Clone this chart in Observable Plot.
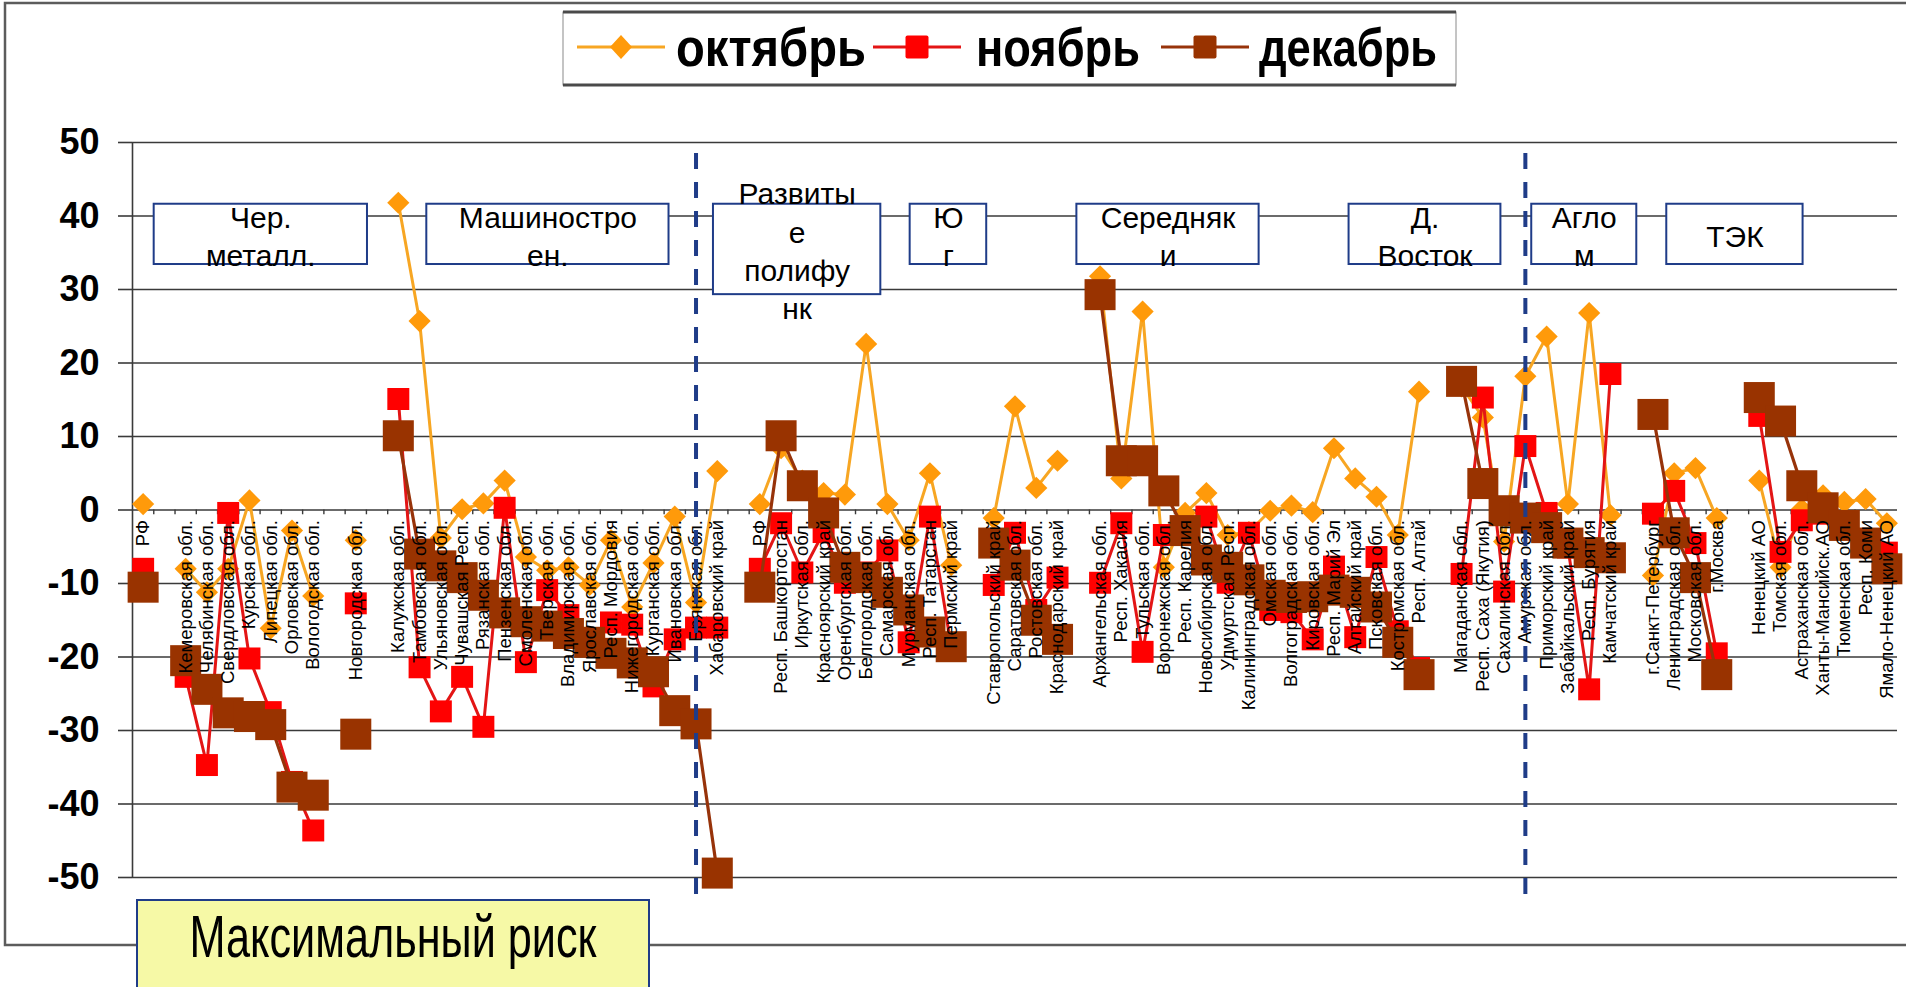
<!DOCTYPE html>
<html>
<head>
<meta charset="utf-8">
<script src="https://cdn.jsdelivr.net/npm/d3@7"></script>
<script src="https://cdn.jsdelivr.net/npm/@observablehq/plot@0.6"></script>
<style>
html,body{margin:0;padding:0;background:#fff;overflow:hidden}
#page{position:relative;width:1906px;height:987px}
#chart{position:absolute;left:0;top:0}
#overlay{position:absolute;left:0;top:0;pointer-events:none}
</style>
</head>
<body>
<div id="page"><svg id="under" width="1906" height="987" style="position:absolute;left:0;top:0"></svg><div id="chart"></div><svg id="overlay" width="1906" height="987"></svg></div>
<script>
// ---------- data ----------
const categories = [
  "РФ", "", "Кемеровская обл.", "Челябинская обл.", "Свердловская обл.", "Курская обл.", "Липецкая обл.", "Орловская обл.", "Вологодская обл.", "",
  "Новгородская обл.", "", "Калужская обл.", "Тамбовская обл.", "Ульяновская обл.", "Чувашская Респ.", "Рязанская обл.", "Пензенская обл.", "Смоленская обл.", "Тверская обл.",
  "Владимирская обл.", "Ярославская обл.", "Респ. Мордовия", "Нижегородская обл.", "Курганская обл.", "Ивановская обл.", "Брянская обл.", "Хабаровский край", "", "РФ",
  "Респ. Башкортостан", "Иркутская обл.", "Красноярский край", "Оренбургская обл.", "Белгородская обл.", "Самарская обл.", "Мурманская обл.", "Респ. Татарстан", "Пермский край", "",
  "Ставропольский край", "Саратовская обл.", "Ростовская обл.", "Краснодарский край", "", "Архангельская обл.", "Респ. Хакасия", "Тульская обл.", "Воронежская обл.", "Респ. Карелия",
  "Новосибирская обл.", "Удмуртская Респ.", "Калининградская обл.", "Омская обл.", "Волгоградская обл.", "Кировская обл.", "Респ. Марий Эл", "Алтайский край", "Псковская обл.", "Костромская обл.",
  "Респ. Алтай", "", "Магаданская обл.", "Респ. Саха (Якутия)", "Сахалинская обл.", "Амурская обл.", "Приморский край", "Забайкальский край", "Респ. Бурятия", "Камчатский край",
  "", "г.Санкт-Петербург", "Ленинградская обл.", "Московская обл.", "г.Москва", "", "Ненецкий АО", "Томская обл.", "Астраханская обл.", "Ханты-Мансийск.АО",
  "Тюменская обл.", "Респ. Коми", "Ямало-Ненецкий АО"
];
const october = [
  0.8, null, -8.0, -11.2, -8.0, 1.3, -16.1, -2.8, -11.7, null,
  -4.1, null, 41.8, 25.7, -3.8, 0.1, 0.9, 4.0, -6.4, -8.2,
  -7.8, -10.2, -4.1, -13.2, -7.2, -0.9, -12.6, 5.3, null, 0.8,
  8.4, 4.0, 2.3, 2.1, 22.6, 0.8, -4.1, 5.0, -7.5, null,
  -1.1, 14.1, 3.0, 6.7, null, 31.8, 4.3, 27.0, -7.8, -0.4,
  2.3, -3.4, -3.0, -0.1, 0.6, -0.3, 8.4, 4.3, 1.8, -3.4,
  16.1, null, 16.8, 12.6, -4.3, 18.2, 23.6, 0.8, 26.8, -0.7,
  null, -8.9, 5.0, 5.7, -1.1, null, 4.0, -7.8, 0.1, 2.0,
  1.1, 1.5, -1.8
];
const november = [
  -8.0, null, -22.7, -34.7, -0.4, -20.2, -27.5, -37.0, -43.6, null,
  -12.7, null, 15.1, -21.4, -27.4, -22.7, -29.5, 0.3, -20.7, -10.9,
  -14.3, -17.5, -15.3, -15.6, -24.0, -17.6, -16.0, -16.0, null, -8.0,
  -1.8, -8.5, -3.0, -9.9, -8.5, -5.5, -18.0, -0.9, -18.6, null,
  -10.2, -3.1, -13.6, -9.2, null, -9.9, -1.8, -19.3, -3.4, -2.5,
  -0.9, -9.9, -3.1, -13.6, -13.9, -17.6, -7.7, -17.3, -6.4, -16.5,
  -21.5, null, -8.7, 15.3, -11.1, 8.7, -0.4, -5.1, -24.4, 18.5,
  null, -0.5, 2.6, -4.5, -19.5, null, 12.8, -5.7, -1.4, -0.5,
  -2.4, -4.0, -5.8
];
const december = [
  -10.5, null, -20.5, -24.4, -27.6, -28.1, -29.2, -37.7, -38.8, null,
  -30.5, null, 10.1, -6.0, -7.6, -9.2, -11.6, -14.0, -15.2, -15.8,
  -16.8, -18.0, -19.5, -20.8, -22.0, -27.3, -29.1, -49.4, null, -10.5,
  10.1, 3.3, -0.4, -7.8, -9.2, -11.2, -13.6, -16.6, -18.6, null,
  -4.5, -7.5, -15.0, -17.6, null, 29.3, 6.7, 6.7, 2.6, -2.8,
  -6.8, -7.8, -9.5, -11.6, -11.9, -11.8, -10.9, -11.2, -13.2, -18.0,
  -22.4, null, 17.5, 3.6, -0.1, -1.1, -2.4, -4.5, -5.8, -6.5,
  null, 13.0, -3.1, -9.2, -22.4, null, 15.3, 12.1, 3.3, 0.3,
  -2.1, -4.5, -8.0
];
const seriesNames = ["октябрь", "ноябрь", "декабрь"];
const yTicks = [-50, -40, -30, -20, -10, 0, 10, 20, 30, 40, 50];
const yTickLabels = ["-50", "-40", "-30", "-20", "-10", "0", "10", "20", "30", "40", "50"];
const dividerCategories = ["Брянская обл.", "Амурская обл."];
const groupLabels = ["Чер.\nметалл.", "Машиностро\nен.", "Развиты\nе\nполифу\nнк", "Ю\nг", "Середняк\nи", "Д.\nВосток", "Агло\nм", "ТЭК"];
const riskLabel = "Максимальный риск";

// annotation box placement (category-index units and value units)
const groupFrom = [0.52, 13.34, 26.82, 36.07, 43.91, 56.71, 65.30, 71.65];
const groupTo   = [10.55, 24.73, 34.69, 39.67, 52.48, 63.85, 70.24, 78.06];
const groupTop  = [41.6, 41.6, 41.6, 41.6, 41.6, 41.6, 41.6, 41.6];
const groupBottom = [33.4, 33.4, 29.3, 33.4, 33.4, 33.4, 33.4, 33.4];

// ---------- build ----------
const rows = categories.map((c, i) => ({i, c, o: october[i], n: november[i], d: december[i]}));
const groups = groupLabels.map((label, k) => ({label, from: groupFrom[k], to: groupTo[k], top: groupTop[k], bottom: groupBottom[k]}));
const dividers = dividerCategories.map(c => categories.indexOf(c));
const boundaries = d3.range(0, categories.length - 1).map(i => i + 0.5);

const colO = "#FF9A0A", colOl = "#F7A623";
const colN = "#FF0000", colNl = "#E31515";
const colD = "#993300", colDl = "#97330A";
const grid = "#3a3a3a";
const navy = "#1F3C88";
const font = '"Liberation Sans", Arial, sans-serif';

const chart = Plot.plot({
  width: 1906, height: 987,
  marginLeft: 132, marginRight: 9, marginTop: 142, marginBottom: 110,
  x: {type: "linear", domain: [-0.5, categories.length - 0.5], axis: null},
  y: {domain: [-50, 50], axis: null},
  style: {fontFamily: font, background: "transparent", overflow: "visible"},
  marks: [
    Plot.ruleY(yTicks, {stroke: grid, strokeWidth: 1.6}),
    Plot.ruleX([-0.5], {stroke: grid, strokeWidth: 1.6}),
    Plot.axisY({ticks: yTicks, tickFormat: d => yTickLabels[yTicks.indexOf(d)], tickSize: 14, tickPadding: 19,
      fontSize: 36, fontWeight: "bold", color: "#000", stroke: grid, strokeWidth: 1.6, label: null}),
    Plot.ruleX(boundaries, {y1: 0, y2: -0.65, stroke: grid, strokeWidth: 1.4}),
    Plot.rect(groups, {x1: "from", x2: "to", y1: "top", y2: "bottom", fill: "white", stroke: navy, strokeWidth: 2}),
    Plot.text(groups, {x: d => (d.from + d.to) / 2, y: d => (d.top + d.bottom) / 2, text: "label",
      fontSize: 30, lineHeight: 1.27, fill: "#000", fontFamily: font}),
    Plot.line(rows, {x: "i", y: "o", stroke: colOl, strokeWidth: 3}),
    Plot.dot(rows, {x: "i", y: "o", symbol: "diamond2", r: 10, fill: colO, stroke: null}),
    Plot.line(rows, {x: "i", y: "n", stroke: colNl, strokeWidth: 3}),
    Plot.dot(rows, {x: "i", y: "n", symbol: "square", r: 12.4, fill: colN, stroke: null}),
    Plot.line(rows, {x: "i", y: "d", stroke: colDl, strokeWidth: 3.2}),
    Plot.dot(rows, {x: "i", y: "d", symbol: "square", r: 17.5, fill: colD, stroke: null}),
    Plot.text(rows.filter(d => d.c), {x: "i", y: 0, text: "c", rotate: -90, textAnchor: "end", dy: 10,
      fontSize: 18.5, fill: "#000", fontFamily: font, ariaLabel: "category-labels"}),
    Plot.ruleX(dividers, {y1: 48.5, y2: -53.5, stroke: navy, strokeWidth: 4, strokeDasharray: "16,13"})
  ]
});
document.getElementById("chart").appendChild(chart);

// stretch category labels along their baseline (as in the reference):
// calibrated so that "Кемеровская обл." spans ~186px
const labelNodes = Array.from(chart.querySelectorAll('g[aria-label="category-labels"] text'));
const refNode = labelNodes.find(t => t.textContent === categories[2]);
const stretch = refNode ? 186 / refNode.getComputedTextLength() : 1.3;
labelNodes.forEach(t => {
  const L = t.getComputedTextLength();
  t.setAttribute("textLength", (L * stretch).toFixed(1));
  t.setAttribute("lengthAdjust", "spacingAndGlyphs");
});

// ---------- frame (under the chart) ----------
const under = d3.select("#under");
under.append("path").attr("d", "M1906,3H5V945H1906").attr("fill", "none").attr("stroke", "#5c5c5c").attr("stroke-width", 2.5);

// ---------- legend & risk box ----------
const ov = d3.select("#overlay");
ov.append("rect").attr("x", 563).attr("y", 12).attr("width", 893).attr("height", 73)
  .attr("fill", "#fff").attr("stroke", "#8a8a8a").attr("stroke-width", 1);
ov.append("line").attr("x1", 563).attr("x2", 1456).attr("y1", 12).attr("y2", 12).attr("stroke", "#4a4a4a").attr("stroke-width", 3);
ov.append("line").attr("x1", 563).attr("x2", 1456).attr("y1", 85).attr("y2", 85).attr("stroke", "#4a4a4a").attr("stroke-width", 3);

const legendCols = [[colOl, colO, "diamond"], [colNl, colN, "square"], [colDl, colD, "square"]];
const legendLineX = [577, 873, 1161];
const legendTextX = [676, 976, 1259];
const legendTextW = [190, 164, 178];
seriesNames.forEach((name, k) => {
  const [lc, mc, shape] = legendCols[k];
  const lx = legendLineX[k];
  const cy = 47, cx = lx + 44;
  ov.append("line").attr("x1", lx).attr("x2", lx + 88).attr("y1", cy).attr("y2", cy).attr("stroke", lc).attr("stroke-width", 3);
  if (shape === "diamond") {
    ov.append("path").attr("d", `M${cx},${cy - 12}L${cx + 11},${cy}L${cx},${cy + 12}L${cx - 11},${cy}Z`).attr("fill", mc);
  } else {
    ov.append("rect").attr("x", cx - 11.5).attr("y", cy - 11.5).attr("width", 23).attr("height", 23).attr("rx", 2).attr("fill", mc);
  }
  ov.append("text").attr("x", legendTextX[k]).attr("y", 66).text(name)
    .attr("font-family", font).attr("font-weight", "bold").attr("font-size", 54).attr("fill", "#000")
    .attr("textLength", legendTextW[k]).attr("lengthAdjust", "spacingAndGlyphs");
});

ov.append("rect").attr("x", 137).attr("y", 900).attr("width", 512).attr("height", 110)
  .attr("fill", "#F6F9A6").attr("stroke", navy).attr("stroke-width", 2);
ov.append("text").attr("x", 393).attr("y", 957).attr("text-anchor", "middle").text(riskLabel)
  .attr("font-family", font).attr("font-size", 60).attr("fill", "#000")
  .attr("textLength", 407).attr("lengthAdjust", "spacingAndGlyphs");
</script>
</body>
</html>
